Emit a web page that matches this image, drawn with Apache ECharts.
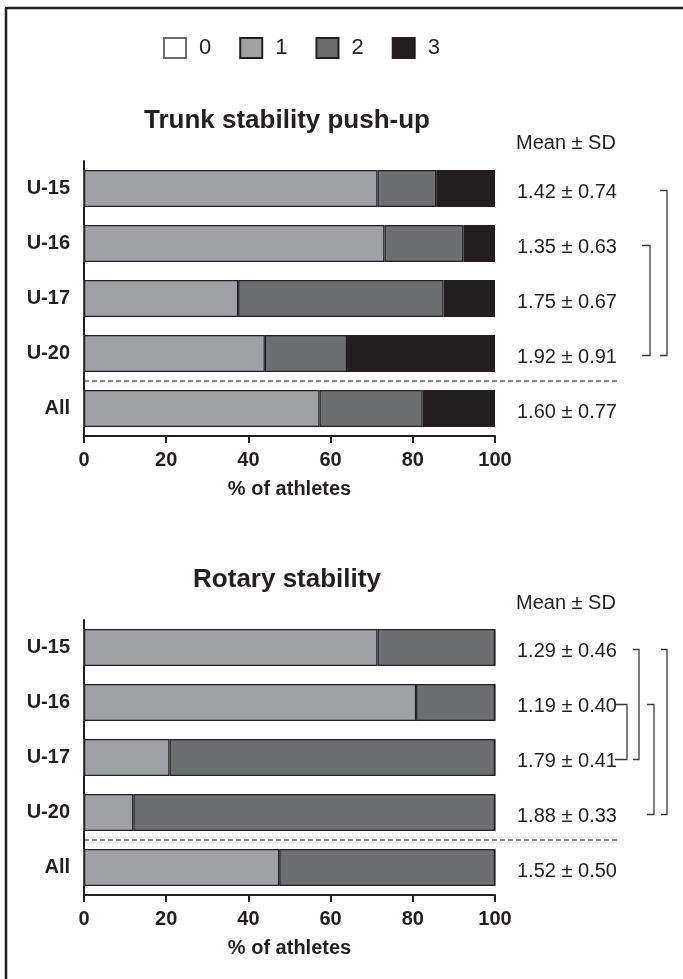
<!DOCTYPE html>
<html>
<head>
<meta charset="utf-8">
<script src="https://cdn.jsdelivr.net/npm/echarts@6/dist/echarts.min.js"></script>
<style>
  html, body { margin: 0; padding: 0; background: #fff; }
  #chart { width: 683px; height: 979px; }
</style>
</head>
<body>
<div id="chart"></div>
<script>
const groups = ['U-15', 'U-16', 'U-17', 'U-20', 'All']
const scoreNames = ['0', '1', '2', '3']

// % of athletes per score, trunk stability push-up
const trunk0 = [0, 0, 0, 0, 0]
const trunk1 = [71.4, 73.1, 37.5, 44.0, 57.3]
const trunk2 = [14.3, 19.2, 50.0, 20.0, 25.1]
const trunk3 = [14.3, 7.7, 12.5, 36.0, 17.6]
const trunkMean = ['1.42 ± 0.74', '1.35 ± 0.63', '1.75 ± 0.67', '1.92 ± 0.91', '1.60 ± 0.77']
const trunkPairs = [['U-15', 'U-20'], ['U-16', 'U-20']]

// rotary stability
const rotary0 = [0, 0, 0, 0, 0]
const rotary1 = [71.4, 80.8, 20.8, 12.0, 47.5]
const rotary2 = [28.6, 19.2, 79.2, 88.0, 52.5]
const rotary3 = [0, 0, 0, 0, 0]
const rotaryMean = ['1.29 ± 0.46', '1.19 ± 0.40', '1.79 ± 0.41', '1.88 ± 0.33', '1.52 ± 0.50']
const rotaryPairs = [['U-16', 'U-17'], ['U-15', 'U-17'], ['U-16', 'U-20'], ['U-15', 'U-20']]

const xTicks = [0, 20, 40, 60, 80, 100]

const ink = '#231f20'
const font = "'Liberation Sans', Arial, sans-serif"
const fills = ['#ffffff', '#a0a1a4', '#6d6e70', '#231f20']

const dom = document.getElementById('chart')
const myChart = echarts.init(dom)

function catAxis(grid) {
    return {
        type: 'category', gridIndex: grid, data: groups, inverse: true,
        axisLine: { lineStyle: { color: ink, width: 2 } },
        axisTick: { alignWithLabel: true, length: 7, lineStyle: { color: ink, width: 2 } },
        axisLabel: { color: ink, fontFamily: font, fontWeight: 'bold', fontSize: 20, margin: 14 },
    }
}
function meanAxis(grid, labels) {
    return {
        type: 'category', gridIndex: grid, data: labels, inverse: true, position: 'right',
        axisLine: { show: false }, axisTick: { show: false },
        axisLabel: { color: ink, fontFamily: font, fontSize: 20, margin: 22, verticalAlign: 'top', lineHeight: 8 },
    }
}
function valAxis(grid) {
    return {
        type: 'value', gridIndex: grid, min: xTicks[0], max: xTicks[xTicks.length - 1],
        interval: xTicks[1] - xTicks[0],
        splitLine: { show: false },
        axisLine: { show: true, lineStyle: { color: ink, width: 2 } },
        axisTick: { show: true, length: 7, lineStyle: { color: ink, width: 2 } },
        axisLabel: { color: ink, fontFamily: font, fontWeight: 'bold', fontSize: 20, margin: 14 },
        name: '% of athletes', nameLocation: 'middle', nameGap: 43,
        nameTextStyle: { color: ink, fontFamily: font, fontWeight: 'bold', fontSize: 20 },
    }
}
function barSeries(grid, sets) {
    return sets.map((d, k) => ({
        name: scoreNames[k], type: 'bar', stack: 'g' + grid,
        xAxisIndex: grid, yAxisIndex: grid * 2, barWidth: 37,
        itemStyle: { color: fills[k], borderColor: k === 0 ? '#6d6e70' : ink, borderWidth: 1.2 },
        data: d,
    }))
}

let option = {
    animation: false,
    backgroundColor: '#fff',
    title: [
        { text: 'Trunk stability push-up', left: 287, top: 108, textAlign: 'center', padding: 0,
          textStyle: { color: ink, fontFamily: font, fontWeight: 'bold', fontSize: 26 } },
        { text: 'Rotary stability', left: 287, top: 567, textAlign: 'center', padding: 0,
          textStyle: { color: ink, fontFamily: font, fontWeight: 'bold', fontSize: 26 } },
        { text: 'Mean ± SD', left: 516, top: 133, padding: 0,
          textStyle: { color: ink, fontFamily: font, fontWeight: 'normal', fontSize: 20 } },
        { text: 'Mean ± SD', left: 516, top: 593, padding: 0,
          textStyle: { color: ink, fontFamily: font, fontWeight: 'normal', fontSize: 20 } },
    ],
    legend: {
        data: scoreNames, left: 163, top: 37, icon: 'rect', padding: 0,
        itemWidth: 22, itemHeight: 20, itemGap: 28, selectedMode: false,
        textStyle: { color: ink, fontFamily: font, fontSize: 22, padding: [0, 0, 0, 8] },
    },
    grid: [
        { left: 84, width: 411, top: 161, height: 275 },
        { left: 84, width: 411, top: 620, height: 275 },
    ],
    xAxis: [valAxis(0), valAxis(1)],
    yAxis: [catAxis(0), meanAxis(0, trunkMean), catAxis(1), meanAxis(1, rotaryMean)],
    series: [
        ...barSeries(0, [trunk0, trunk1, trunk2, trunk3]),
        ...barSeries(1, [rotary0, rotary1, rotary2, rotary3]),
    ],
}
myChart.setOption(option)

// separators, significance brackets and frame, placed from the axes
const bracketX = {
    0: [[660, 667], [642, 650]],
    1: [[615, 627], [633, 639], [647, 654], [661, 667]],
}
const gfx = []
gfx.push({ type: 'line', shape: { x1: 5, y1: 8, x2: 683, y2: 8 }, style: { stroke: ink, lineWidth: 2.5 } })
gfx.push({ type: 'line', shape: { x1: 6, y1: 8, x2: 6, y2: 979 }, style: { stroke: ink, lineWidth: 2.5 } })
;[[0, trunkPairs], [1, rotaryPairs]].forEach(([g, pairs]) => {
    const ax = { yAxisIndex: g * 2 }
    const ySep = (myChart.convertToPixel(ax, 'U-20') + myChart.convertToPixel(ax, 'All')) / 2
    gfx.push({
        type: 'line', shape: { x1: 84, y1: ySep, x2: 617, y2: ySep },
        style: { stroke: ink, lineWidth: 1.2, lineDash: [5, 3] },
    })
    pairs.forEach((p, i) => {
        const y1 = myChart.convertToPixel(ax, p[0]) + 2
        const y2 = myChart.convertToPixel(ax, p[1]) + 2
        const [xa, xb] = bracketX[g][i]
        gfx.push({
            type: 'polyline',
            shape: { points: [[xa, y1], [xb, y1], [xb, y2], [xa, y2]] },
            style: { stroke: '#3a3a3a', lineWidth: 1.3, fill: null },
        })
    })
})
myChart.setOption({ graphic: gfx })
</script>
</body>
</html>
